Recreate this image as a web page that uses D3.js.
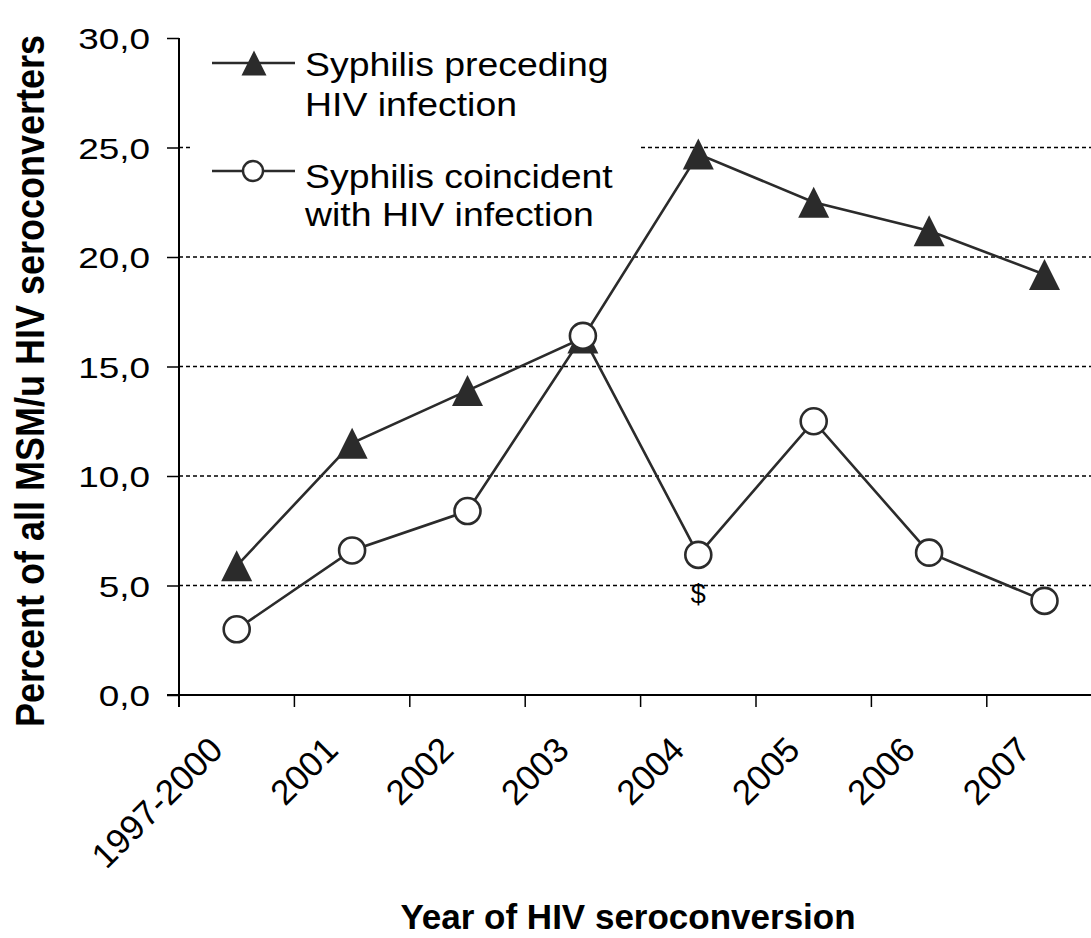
<!DOCTYPE html>
<html>
<head>
<meta charset="utf-8">
<script src="https://cdn.jsdelivr.net/npm/d3@7/dist/d3.min.js"></script>
<style>
  html, body { margin: 0; padding: 0; background: #fff; }
  svg { display: block; }
  text { font-family: "Liberation Sans", Arial, sans-serif; fill: #000; }
</style>
</head>
<body>
<svg id="chart" width="1091" height="938"></svg>
<script>
const categories = ["1997-2000", "2001", "2002", "2003", "2004", "2005", "2006", "2007"];
const precedingValues = [5.9, 11.5, 13.9, 16.3, 24.7, 22.5, 21.2, 19.2];
const coincidentValues = [3.0, 6.6, 8.4, 16.4, 6.4, 12.5, 6.5, 4.3];
const yTicks = [0, 5, 10, 15, 20, 25, 30];
const gridTicks = [5, 10, 15, 20, 25];
const seriesNames = ["Syphilis preceding|HIV infection", "Syphilis coincident|with HIV infection"];
const annotation = { category: "2004", label: "$" };
const yTitle = "Percent of all MSM/u HIV seroconverters";
const xTitle = "Year of HIV seroconversion";

(function () {
const svg = d3.select("#chart");
const W = 1091;
const plotLeft = 179, plotTop = 38, plotBottom = 695;
const step = 115.4;

const x = d3.scaleBand().domain(categories).range([plotLeft, plotLeft + step * categories.length]).padding(0);
const y = d3.scaleLinear().domain([0, 30]).range([plotBottom, plotTop]);
const cx = c => x(c) + x.bandwidth() / 2;

const ink = "#2b2b2b";

// gridlines
svg.append("g").selectAll("line").data(gridTicks).join("line")
  .attr("x1", plotLeft).attr("x2", W)
  .attr("y1", d => y(d)).attr("y2", d => y(d))
  .attr("stroke", "#000").attr("stroke-width", 1.3)
  .attr("stroke-dasharray", "4,3");

// legend background (covers gridline)
svg.append("rect").attr("x", 192).attr("y", 40).attr("width", 448).attr("height", 200).attr("fill", "#fff");

// y axis
const yAxis = svg.append("g").attr("transform", `translate(${plotLeft},0)`)
  .call(d3.axisLeft(y).tickValues(yTicks).tickSize(12).tickPadding(16)
    .tickFormat(d => d3.format(".1f")(d).replace(".", ",")));
yAxis.select(".domain").remove();
yAxis.selectAll(".tick line").attr("stroke", "#000").attr("stroke-width", 1.5);
yAxis.selectAll(".tick text").attr("font-size", 30).attr("font-family", "Liberation Sans, Arial, sans-serif")
  .attr("fill", "#000").attr("dy", "0.36em").attr("x", 0)
  .attr("transform", "translate(-29,0) scale(1.23,1)");
svg.append("line").attr("x1", plotLeft).attr("x2", plotLeft).attr("y1", plotTop).attr("y2", plotBottom + 12)
  .attr("stroke", "#000").attr("stroke-width", 2);

// x axis
svg.append("line").attr("x1", plotLeft - 12).attr("x2", W).attr("y1", plotBottom).attr("y2", plotBottom)
  .attr("stroke", "#000").attr("stroke-width", 2);
const bounds = categories.map(c => x(c)).concat([x.range()[1]]);
svg.append("g").selectAll("line").data(bounds).join("line")
  .attr("x1", d => d).attr("x2", d => d).attr("y1", plotBottom).attr("y2", plotBottom + 12)
  .attr("stroke", "#000").attr("stroke-width", 1.5);
svg.append("g").selectAll("text").data(categories).join("text")
  .attr("transform", d => `translate(${cx(d) - 12},${plotBottom + 57}) rotate(-45)`)
  .attr("text-anchor", "end").attr("font-size", 35).text(d => d);

// lines
const line = d3.line().x((d, i) => cx(categories[i])).y(d => y(d));
svg.append("path").datum(precedingValues).attr("d", line)
  .attr("fill", "none").attr("stroke", ink).attr("stroke-width", 2.6);
const tri = s => `M0,${-s / 2}L${s / 2},${s / 2}L${-s / 2},${s / 2}Z`;
svg.append("g").selectAll("path").data(precedingValues).join("path")
  .attr("transform", (d, i) => `translate(${cx(categories[i])},${y(d)})`)
  .attr("d", tri(31)).attr("fill", ink);

svg.append("path").datum(coincidentValues).attr("d", line)
  .attr("fill", "none").attr("stroke", ink).attr("stroke-width", 2.6);
svg.append("g").selectAll("circle").data(coincidentValues).join("circle")
  .attr("cx", (d, i) => cx(categories[i])).attr("cy", d => y(d)).attr("r", 13)
  .attr("fill", "#fff").attr("stroke", ink).attr("stroke-width", 2.6);

// annotation
const annIdx = categories.indexOf(annotation.category);
svg.append("text").attr("x", cx(annotation.category)).attr("y", y(coincidentValues[annIdx]) + 48)
  .attr("text-anchor", "middle").attr("font-size", 27).text(annotation.label);

// legend
const lg = svg.append("g");
const legendRows = [{ y: 63, marker: "tri", ty: [76, 116] }, { y: 171, marker: "circ", ty: [188, 226] }];
legendRows.forEach((r, k) => {
  lg.append("line").attr("x1", 212).attr("x2", 295).attr("y1", r.y).attr("y2", r.y)
    .attr("stroke", ink).attr("stroke-width", 2.6);
  if (r.marker === "tri") {
    lg.append("path").attr("transform", `translate(254,${r.y})`).attr("d", tri(25)).attr("fill", ink);
  } else {
    lg.append("circle").attr("cx", 253).attr("cy", r.y).attr("r", 10)
      .attr("fill", "#fff").attr("stroke", ink).attr("stroke-width", 2.4);
  }
  seriesNames[k].split("|").forEach((t, j) => {
    lg.append("text").attr("transform", `translate(305,${r.ty[j]}) scale(1.1,1)`)
      .attr("font-size", 34).text(t);
  });
});

// titles
svg.append("text").attr("transform", `translate(44,381) scale(1.15,1) rotate(-90)`)
  .attr("text-anchor", "middle").attr("font-size", 36).attr("font-weight", "bold").text(yTitle);
svg.append("text").attr("x", 628).attr("y", 929)
  .attr("text-anchor", "middle").attr("font-size", 35).attr("font-weight", "bold").text(xTitle);
})();
</script>
</body>
</html>
